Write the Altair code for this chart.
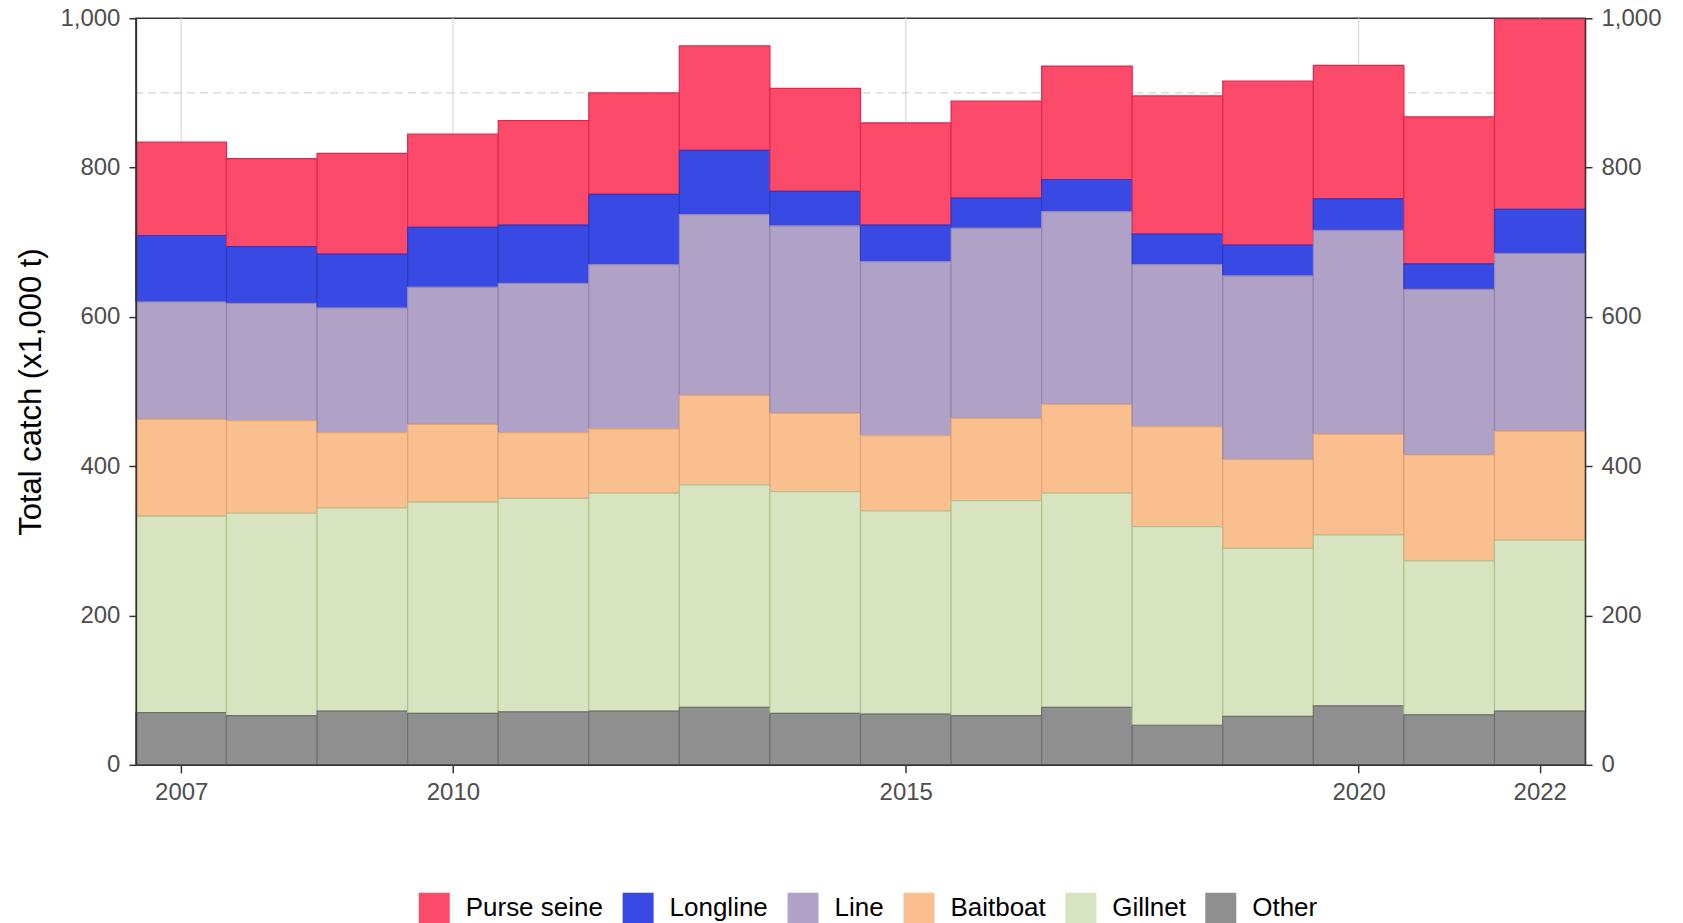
import altair as alt
import pandas as pd

years = list(range(2007, 2023))
gears = ["Purse seine", "Longline", "Line", "Baitboat", "Gillnet", "Other"]

purse_seine = [125, 118, 135, 125, 140, 136, 140, 138, 137, 130, 152, 185, 220, 179, 197, 255]
longline = [89, 76, 72, 80, 78, 94, 86, 46, 49, 40, 43, 41, 41, 42, 34, 59]
line = [157, 157, 167, 184, 200, 220, 242, 251, 233, 255, 258, 217, 246, 273, 222, 238]
baitboat = [130, 124, 101, 104, 88, 86, 120, 105, 101, 110, 119, 134, 119, 135, 142, 146]
gillnet = [263, 271, 272, 283, 286, 292, 298, 297, 272, 288, 287, 266, 225, 229, 206, 229]
other = [70, 66, 72, 69, 71, 72, 77, 69, 68, 66, 77, 53, 65, 79, 67, 72]

series = [purse_seine, longline, line, baitboat, gillnet, other]
stack_order = {"Other": 0, "Gillnet": 1, "Baitboat": 2, "Line": 3, "Longline": 4, "Purse seine": 5}

fill_colors = ["#FC4A6B", "#3949E3", "#B0A1C7", "#F9BF8E", "#D8E4BF", "#8F8F8F"]
stroke_colors = ["#E0284F", "#2B3AC4", "#9484AE", "#E3A373", "#B0C292", "#6F6F6F"]

x_ticks = [2007, 2010, 2015, 2020, 2022]
y_ticks = [0, 200, 400, 600, 800, 1000]
ref_value = [900]

rows = []
for i, yr in enumerate(years):
    for g, vals in zip(gears, series):
        rows.append({"year": yr, "gear": g, "catch": vals[i], "ord": stack_order[g]})
df = pd.DataFrame(rows)
ref_df = pd.DataFrame({"ref": ref_value})
tick_df = pd.DataFrame({"t": x_ticks})

FONT = "Liberation Sans"

xscale = alt.Scale(domain=[2006.5, 2022.5], nice=False, zero=False)
yscale = alt.Scale(domain=[0, 1000], nice=False)

x_axis = alt.Axis(
    values=x_ticks, format="d", title=None, labelFont=FONT, labelFontSize=24,
    labelColor="#4D4D4D", tickColor="#333333", tickSize=8, tickWidth=1.5,
    domainColor="#333333", domainWidth=1.5, grid=False,
    labelPadding=8, labelFlush=False, zindex=1,
)

common_axis = dict(
    values=y_ticks, format=",.0f", labelFont=FONT, labelFontSize=24, labelColor="#4D4D4D",
    tickColor="#333333", tickSize=7, tickWidth=1.5, domainColor="#333333", domainWidth=1.5,
    grid=False, labelPadding=9, zindex=1,
)

# vertical grid lines at the x tick positions
grid = alt.Chart(tick_df).mark_rule(color="#D9D9D9", strokeWidth=1.2).encode(
    x=alt.X("t:Q", scale=xscale, axis=x_axis)
)

rule = alt.Chart(ref_df).mark_rule(color="#D3D3D3", strokeDash=[8, 5], strokeWidth=1.4).encode(
    y=alt.Y("ref:Q", scale=yscale, axis=alt.Axis(orient="right", title=None, **common_axis))
)

bars = alt.Chart(df).transform_stack(
    stack="catch", groupby=["year"], as_=["y0", "y1"],
    sort=[alt.SortField("ord", order="ascending")],
).transform_calculate(
    x0="datum.year - 0.5", x1="datum.year + 0.5"
).mark_rect(strokeWidth=1.2).encode(
    x=alt.X("x0:Q", scale=xscale, axis=x_axis),
    x2="x1:Q",
    y=alt.Y("y0:Q", scale=yscale, axis=alt.Axis(
        orient="left", title="Total catch (x1,000 t)", titleFont=FONT, titleFontSize=31,
        titleFontWeight="normal", titleColor="#000000", titleAngle=-90,
        titleX=-104, titleY=373.5, titleAlign="center", titleBaseline="middle",
        **common_axis)),
    y2="y1:Q",
    fill=alt.Fill("gear:N", scale=alt.Scale(domain=gears, range=fill_colors), legend=alt.Legend(
        orient="none", legendX=283, legendY=875, direction="horizontal", title=None,
        symbolType="square", symbolSize=961, symbolStrokeWidth=0, symbolOpacity=1,
        labelFont=FONT, labelFontSize=26, labelColor="#000000", labelOffset=16,
        columnPadding=19, padding=0, columns=6,
    )),
    stroke=alt.Stroke("gear:N", scale=alt.Scale(domain=gears, range=stroke_colors), legend=None),
)

chart = alt.layer(grid, rule, bars).resolve_scale(y="independent").properties(
    width=1450, height=747,
    padding={"left": 128, "top": 10, "right": 90, "bottom": 158},
    autosize=alt.AutoSizeParams(type="none"),
).configure(font=FONT, background="white").configure_view(stroke="#333333", strokeWidth=1.5)

chart.save("out.html", embed_options={"renderer": "svg", "actions": False})
